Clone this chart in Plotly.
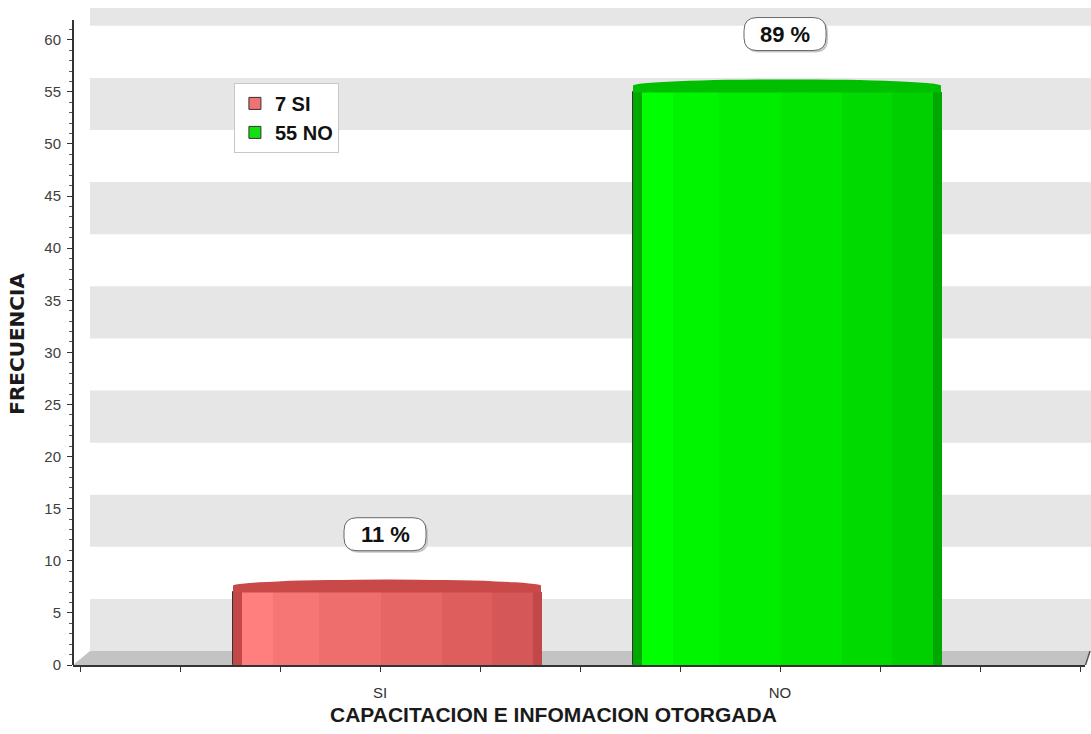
import plotly.graph_objects as go

# ---------------- data ----------------
categories = ["SI", "NO"]
values = [7, 55]
pct_labels = ["11 %", "89 %"]
legend_labels = ["7 SI", "55 NO"]
y_tick_values = list(range(0, 61, 5))
x_title = "CAPACITACION E INFOMACION OTORGADA"
y_title = "FRECUENCIA"

# ---------------- styles ----------------
FONT = "Liberation Sans, Arial, sans-serif"
bar_width = 0.77
bar_shift = 0.0175
stripe_edges = [0, 0.03, 0.13, 0.28, 0.48, 0.68, 0.84, 0.975, 1.0]
stripe_colors = {
    "SI": ["#C24747", "#FF7F7F", "#F67676", "#EE6D6D", "#E66565", "#DE5E5E", "#D55757", "#C24747"],
    "NO": ["#00A800", "#00FF00", "#00F600", "#00ED00", "#00E400", "#00DA00", "#00D000", "#00A800"],
}
legend_colors = {"SI": "#F07272", "NO": "#12E012"}
cap_colors = {"SI": "#C94848", "NO": "#00BE00"}
band_color = "#E6E6E6"
floor_color = "#C3C3C3"
axis_color = "#333333"

x_idx = list(range(len(categories)))

fig = go.Figure()
for i, (cat, val, lab) in enumerate(zip(categories, values, legend_labels)):
    fig.add_trace(go.Bar(
        x=[x_idx[i]], y=[val], name=lab, width=bar_width,
        offset=-bar_width / 2 + bar_shift,
        marker=dict(color=legend_colors[cat], line=dict(color="#333333", width=1)),
        legendgroup=cat, showlegend=True, hoverinfo="skip"))
    for s in range(len(stripe_edges) - 1):
        w = (stripe_edges[s + 1] - stripe_edges[s]) * bar_width
        off = -bar_width / 2 + bar_shift + stripe_edges[s] * bar_width
        fig.add_trace(go.Bar(
            x=[x_idx[i]], y=[val], width=w + 0.002, offset=off,
            marker=dict(color=stripe_colors[cat][s], line=dict(width=0)),
            legendgroup=cat, showlegend=False, hoverinfo="skip"))

shapes = []
# back wall bands (3D offset)
wall_dy = 1.34
wall_x0 = 0.0168
for k in range(7):
    shapes.append(dict(type="rect", xref="paper", yref="y", layer="below",
                       x0=wall_x0, x1=1.01, y0=wall_dy + 10 * k, y1=wall_dy + 10 * k + 5,
                       fillcolor=band_color, line=dict(width=0)))
# floor
shapes.append(dict(type="path", xref="paper", yref="y", layer="below",
                   path=f"M 0,0 L {wall_x0},{wall_dy} L 1.005,{wall_dy} L 1.0,0 Z",
                   fillcolor=floor_color, line=dict(width=0)))
# y axis line
shapes.append(dict(type="line", xref="paper", yref="y", x0=0, x1=0, y0=-0.2, y1=61.9,
                   line=dict(color=axis_color, width=2)))
# right 3D end of x axis
shapes.append(dict(type="line", xref="paper", yref="y", x0=1.0, x1=1.005, y0=-0.15, y1=wall_dy,
                   line=dict(color="#555555", width=1.5)))

# cylinder caps and label boxes
bw2, bh2, r = 41, 16.5, 13
def rounded(dx, dy):
    return (f"M {-bw2 + r + dx},{-bh2 + dy} L {bw2 - r + dx},{-bh2 + dy} Q {bw2 + dx},{-bh2 + dy} {bw2 + dx},{-bh2 + r + dy} "
            f"L {bw2 + dx},{bh2 - r + dy} Q {bw2 + dx},{bh2 + dy} {bw2 - r + dx},{bh2 + dy} L {-bw2 + r + dx},{bh2 + dy} "
            f"Q {-bw2 + dx},{bh2 + dy} {-bw2 + dx},{bh2 - r + dy} L {-bw2 + dx},{-bh2 + r + dy} Q {-bw2 + dx},{-bh2 + dy} {-bw2 + r + dx},{-bh2 + dy} Z")
label_dy = 5.55
annotations = []
for i, (cat, val, pct) in enumerate(zip(categories, values, pct_labels)):
    xc = x_idx[i] + bar_shift
    shapes.append(dict(type="rect", xref="x", yref="y", layer="above",
                       x0=xc - bar_width / 2, x1=xc + bar_width / 2, y0=val - 0.05, y1=val + 0.6,
                       fillcolor=cap_colors[cat], line=dict(width=0)))
    shapes.append(dict(type="circle", xref="x", yref="y", layer="above",
                       x0=xc - bar_width / 2, x1=xc + bar_width / 2, y0=val + 0.0, y1=val + 1.2,
                       fillcolor=cap_colors[cat], line=dict(width=0)))
    for p, fc, lc in ((rounded(2, -2), "#C8C8C8", "rgba(0,0,0,0)"), (rounded(0, 0), "#FFFFFF", "#666666")):
        shapes.append(dict(type="path", xref="x", yref="y", layer="above",
                           xsizemode="pixel", ysizemode="pixel",
                           xanchor=x_idx[i] + 0.0125, yanchor=val + label_dy,
                           path=p, fillcolor=fc, line=dict(color=lc, width=1)))
    annotations.append(dict(x=x_idx[i] + 0.0125, y=val + label_dy, xref="x", yref="y",
                            text=f"<b>{pct}</b>", showarrow=False,
                            font=dict(family=FONT, size=22, color="#111111"),
                            xanchor="center", yanchor="middle"))

annotations.append(dict(x=-0.0553, y=0.489, xref="paper", yref="paper", text=f"<b>{y_title}</b>",
                        textangle=-90, showarrow=False, xanchor="center", yanchor="middle",
                        font=dict(family="DejaVu Sans, sans-serif", size=20, color="#1A1A1A")))
annotations.append(dict(x=0.475, y=-0.0755, xref="paper", yref="paper", text=f"<b>{x_title}</b>",
                        showarrow=False, xanchor="center", yanchor="middle",
                        font=dict(family=FONT, size=21, color="#1A1A1A")))

fig.update_layout(
    width=1091, height=734,
    margin=dict(l=73, r=6, t=8, b=69),
    paper_bgcolor="#FFFFFF", plot_bgcolor="rgba(0,0,0,0)",
    barmode="overlay", bargap=0,
    shapes=shapes, annotations=annotations,
    showlegend=True,
    legend=dict(x=0.159, y=0.886, xanchor="left", yanchor="top",
                bgcolor="#FFFFFF", bordercolor="#C8C8C8", borderwidth=1,
                font=dict(family=FONT, size=20, color="#111111", weight="bold"),
                tracegroupgap=0, itemclick=False, itemdoubleclick=False),
    xaxis=dict(range=[-0.7675, 1.7625], tickmode="array", tickvals=x_idx, ticktext=categories,
               showline=True, linecolor=axis_color, linewidth=2, ticks="outside", ticklen=5,
               tickcolor=axis_color, showgrid=False, zeroline=False, ticklabelstandoff=8,
               tickfont=dict(family=FONT, size=15, color="#333333"),
               minor=dict(tick0=0, dtick=0.25, ticks="outside", ticklen=5, tickcolor=axis_color, showgrid=False)),
    yaxis=dict(range=[0, 63.05], tickmode="array", tickvals=y_tick_values,
               showline=False, ticks="outside", ticklen=5, tickcolor=axis_color,
               showgrid=False, zeroline=False, ticklabelstandoff=3,
               tickfont=dict(family=FONT, size=15, color="#404040"),
               minor=dict(tickmode="array", tickvals=list(range(0, 62)), ticks="outside",
                          ticklen=3, tickcolor="#555555", showgrid=False)),
)

fig.write_html("out.html")
